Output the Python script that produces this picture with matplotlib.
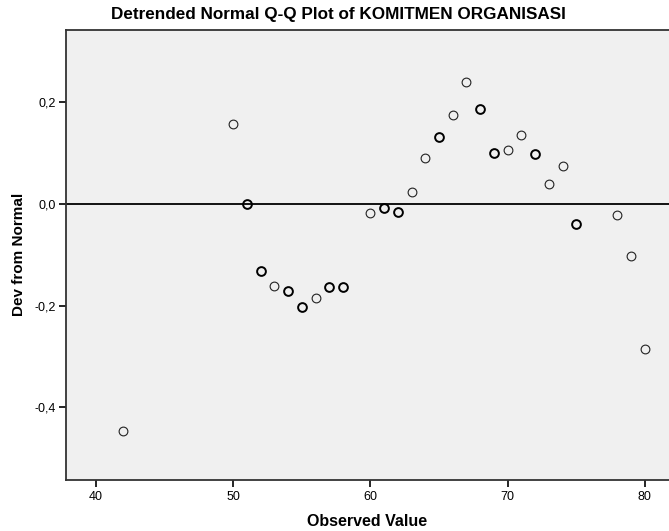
import matplotlib
matplotlib.use("Agg")
import matplotlib.pyplot as plt
from matplotlib.ticker import FuncFormatter

plt.rcParams['font.family'] = ['Liberation Sans', 'DejaVu Sans']

# Data
observed = [42, 50, 51, 52, 53, 54, 55, 56, 57, 58, 60, 61, 62, 63, 64, 65,
            66, 67, 68, 69, 70, 71, 72, 73, 74, 75, 78, 79, 80]
dev = [-0.447, 0.158, 0.000, -0.131, -0.161, -0.171, -0.202, -0.185, -0.163,
       -0.163, -0.017, -0.007, -0.016, 0.024, 0.090, 0.132, 0.175, 0.240,
       0.187, 0.100, 0.106, 0.136, 0.098, 0.039, 0.075, -0.039, -0.022,
       -0.102, -0.286]
multiple = [False, False, True, True, False, True, True, False, True, True,
            False, True, True, False, False, True, False, False, True, True,
            False, False, True, False, False, True, False, False, False]
xticks = [40, 50, 60, 70, 80]
yticks = [-0.4, -0.2, 0.0, 0.2]

fig = plt.figure(figsize=(6.69, 5.31), dpi=100)
ax = fig.add_axes([65.5 / 669, 1 - 479.5 / 531, 1 - 65.5 / 669, (479.5 - 30) / 531])
ax.set_facecolor('#F0F0F0')

ax.set_xlim(37.78, 81.76)
ax.set_ylim(-0.5425, 0.3427)

ax.axhline(0, color='black', lw=1.3, zorder=1)

xs1 = [x for x, m in zip(observed, multiple) if not m]
ys1 = [y for y, m in zip(dev, multiple) if not m]
xs2 = [x for x, m in zip(observed, multiple) if m]
ys2 = [y for y, m in zip(dev, multiple) if m]
ax.plot(xs1, ys1, 'o', ms=6.3, mfc='none', mec='#222222', mew=0.8, zorder=3)
ax.plot(xs2, ys2, 'o', ms=6.3, mfc='none', mec='black', mew=1.4, zorder=3)

ax.set_xticks(xticks)
ax.set_yticks(yticks)
ax.yaxis.set_major_formatter(FuncFormatter(lambda v, p: f"{v:.1f}".replace('.', ',')))
ax.tick_params(direction='out', length=5, width=1.2, colors='black', labelsize=9)
ax.tick_params(axis='x', pad=3)
ax.tick_params(axis='y', pad=2)

for s in ['left', 'bottom', 'top']:
    ax.spines[s].set_linewidth(1.3)
    ax.spines[s].set_color('#333333')
ax.spines['right'].set_visible(False)

ax.set_xlabel('Observed Value', fontsize=11.5, fontweight='bold', labelpad=8)
ax.set_ylabel('Dev from Normal', fontsize=11, fontweight='bold', labelpad=6)
fig.text(338.5 / 669, 1 - 14 / 531, 'Detrended Normal Q-Q Plot of KOMITMEN ORGANISASI',
         ha='center', va='center', fontsize=12.3, fontweight='bold')

fig.savefig('out.png', dpi=100, facecolor='white')
